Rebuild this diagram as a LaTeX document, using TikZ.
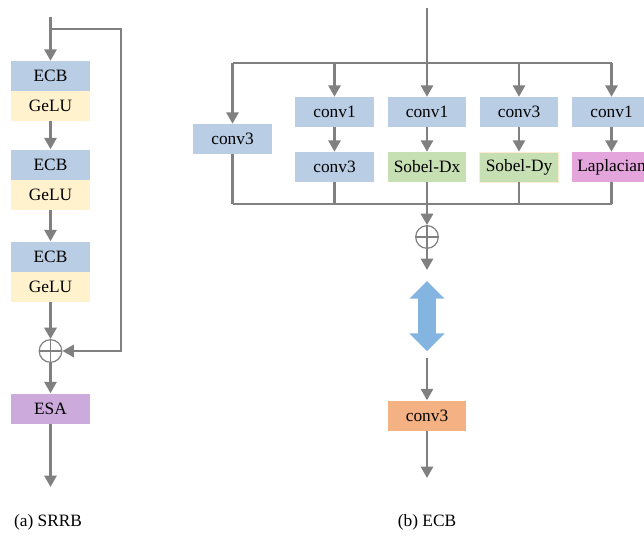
\documentclass[tikz,border=0pt]{standalone}
\usepackage{fontspec}
\setmainfont{Liberation Serif}
\usetikzlibrary{arrows.meta,shapes.arrows}

\definecolor{linegray}{RGB}{128,128,128}
\definecolor{ecbblue}{RGB}{185,205,229}
\definecolor{geluyellow}{RGB}{255,242,204}
\definecolor{esapurple}{RGB}{204,170,220}
\definecolor{sobelgreen}{RGB}{198,224,180}
\definecolor{lappink}{RGB}{228,164,220}
\definecolor{convorange}{RGB}{244,177,131}
\definecolor{arrowblue}{RGB}{132,180,224}

\tikzset{
  line/.style={draw=linegray,line width=2pt},
  arr/.style={line,-{Triangle[width=9pt,length=8.5pt]}},
  blk/.style={minimum width=59pt,minimum height=22.5pt,inner sep=0pt,
    font=\fontsize{13}{15}\selectfont},
  ecbbox/.style={blk,fill=ecbblue},
  gelubox/.style={blk,fill=geluyellow},
  oplus/.style={circle,draw=linegray,line width=0.9pt,minimum size=17pt,inner sep=0pt,
    path picture={\draw[linegray,line width=0.9pt]
      (path picture bounding box.north) -- (path picture bounding box.south)
      (path picture bounding box.west) -- (path picture bounding box.east);}},
  captext/.style={font=\fontsize{13}{15}\selectfont}
}

\begin{document}
\begin{tikzpicture}[x=0.75pt,y=-0.75pt]
  \useasboundingbox (0,0) rectangle (644,537);

  % (a) SRRB
  \coordinate (inA) at (50.5,17);
  \coordinate (splitA) at (50.5,29);
  \coordinate (cornerA) at (121,351);
  \node[ecbbox] (ecb1) at (50.5,76) {ECB};
  \node[gelubox] (gelu1) at (50.5,106) {GeLU};
  \node[ecbbox] (ecb2) at (50.5,164.5) {ECB};
  \node[gelubox] (gelu2) at (50.5,195) {GeLU};
  \node[ecbbox] (ecb3) at (50.5,256.5) {ECB};
  \node[gelubox] (gelu3) at (50.5,287) {GeLU};
  \node[oplus] (addA) at (50.5,351) {};
  \node[blk,fill=esapurple] (esa) at (50.5,408.5) {ESA};
  \coordinate (outA) at (50.5,487);

  \draw[arr] (inA) -- (ecb1.north);
  \draw[arr] (gelu1.south) -- (ecb2.north);
  \draw[arr] (gelu2.south) -- (ecb3.north);
  \draw[arr] (gelu3.south) -- (addA.north);
  \draw[arr] (splitA) -| (cornerA) -- (addA.east);
  \draw[arr] (addA.south) -- (esa.north);
  \draw[arr] (esa.south) -- (outA);

  \node[captext] (capA) at (48,522) {(a) SRRB};

  % (b) ECB
  \coordinate (inB) at (427,8);
  \foreach \i/\x in {1/232.5,2/334.5,3/427,4/519,5/611.5}{
    \coordinate (b\i) at (\x,63);
    \coordinate (d\i) at (\x,204);
  }
  \node[ecbbox] (c1) at (232.5,139) {conv3};
  \node[ecbbox] (c2) at (334.5,112) {conv1};
  \node[ecbbox] (c2b) at (334.5,167) {conv3};
  \node[ecbbox] (c3) at (427,112) {conv1};
  \node[blk,fill=sobelgreen] (c3b) at (427,167) {Sobel-Dx};
  \node[ecbbox] (c4) at (519,112) {conv3};
  \node[blk,fill=sobelgreen,draw=geluyellow!70!orange!40,line width=0.6pt] (c4b) at (519,167) {Sobel-Dy};
  \node[ecbbox] (c5) at (611.5,112) {conv1};
  \node[blk,fill=lappink] (c5b) at (611.5,167) {Laplacian};

  \draw[line] (inB) -- (b3);
  \draw[line] (b1) -- (b5);
  \draw[arr] (b1) -- (c1.north);
  \foreach \i in {2,...,5}{
    \draw[arr] (b\i) -- (c\i.north);
    \draw[arr] (c\i.south) -- (c\i b.north);
    \draw[line] (c\i b.south) -- (d\i);
  }
  \draw[line] (c1.south) -- (d1);
  \draw[line] (d1) -- (d5);

  \node[oplus] (addB) at (427,237) {};
  \coordinate (sumout) at (427,270);
  \draw[arr] (d3) -- (addB.north);
  \draw[arr] (addB.south) -- (sumout);

  \node[double arrow,fill=arrowblue,rotate=90,inner sep=6.5pt,
    minimum height=52.5pt,double arrow head extend=6.5pt,
    double arrow head indent=0pt] (scale) at (427,316) {};

  \coordinate (convin) at (427,358);
  \node[blk,fill=convorange] (conv) at (427,415.5) {conv3};
  \coordinate (outB) at (427,478);
  \draw[arr] (convin) -- (conv.north);
  \draw[arr] (conv.south) -- (outB);

  \node[captext] (capB) at (427,522) {(b) ECB};
\end{tikzpicture}
\end{document}
